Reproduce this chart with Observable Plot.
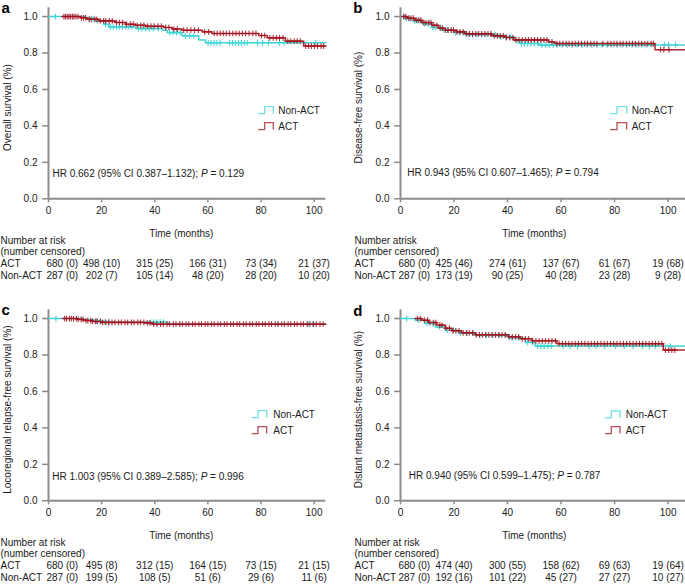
<!DOCTYPE html>
<html><head><meta charset="utf-8">
<script src="https://cdn.jsdelivr.net/npm/d3@7"></script>
<script src="https://cdn.jsdelivr.net/npm/@observablehq/plot@0.6"></script>
<style>
body{margin:0;background:#fff;}
#fig{position:relative;width:685px;height:586px;overflow:hidden;font-family:"Liberation Sans",Arial,sans-serif;}
.panel{position:absolute;}
</style></head><body><div id="fig"></div>
<script>
const riskTimes = [0, 20, 40, 60, 80, 100];
const yTicks = [0, 0.2, 0.4, 0.6, 0.8, 1.0];
const groups = ["Non-ACT", "ACT"];

// ---- Panel a: Overall survival
const actTimeA = [5.2, 12, 14.6, 19, 25.2, 29, 32.8, 36.5, 43.4, 46.6, 50.3, 57.9, 61.6, 79.2, 82.3, 89.2, 96.1, 104.4];
const actSurvA = [1.0, .993, .985, .976, .967, .958, .952, .947, .940, .931, .925, .916, .907, .896, .883, .865, .838, .838];
const actCensA = [5.8,6.4,7.1,7.7,8.3,9.0,9.6,10.3,11.1,12.4,13.2,14.0,15.3,16.1,17.4,18.2,19.5,20.8,21.6,22.9,24.0,25.6,26.7,27.9,29.4,30.8,31.9,33.4,34.7,35.9,37.3,38.6,39.8,41.2,42.5,44.1,45.3,47.2,48.5,50.9,52.2,53.6,55.0,56.4,58.8,60.3,62.4,63.5,64.7,65.8,66.9,68.1,69.4,70.6,71.8,73.0,74.2,75.5,76.9,78.1,80.2,81.4,83.3,84.6,85.8,87.0,88.3,90.1,91.2,92.5,93.6,94.8,96.8,97.9,99.0,100.1,101.3,102.6,103.6];
const nonTimeA = [0, 14, 17.7, 20.8, 22.7, 32.8, 42.8, 44.7, 50.3, 56.6, 59.1, 104.4];
const nonSurvA = [1.0, .989, .976, .958, .943, .934, .925, .912, .894, .872, .856, .856];
const nonCensA = [2.6,15.5,16.8,18.4,21.5,23.3,24.4,25.6,26.7,27.8,29.1,30.2,31.4,33.9,35.2,36.6,38.0,39.4,41.3,45.6,46.9,48.2,49.6,51.5,53.2,54.7,60.1,61.2,62.3,63.4,64.6,68.2,69.3,70.4,71.5,72.6,73.7,74.8,78.7,80.6,82.8,86.9,88.7,100.6];
const actRiskA = [680, 498, 315, 166, 73, 21];
const actCensoredA = [0, 10, 25, 31, 34, 37];
const nonRiskA = [287, 202, 105, 48, 28, 10];
const nonCensoredA = [0, 7, 14, 20, 20, 20];

// ---- Panel b: Disease-free survival
const actTimeB = [0.5, 2.5, 5.5, 8, 11.7, 14.2, 16.7, 21, 24.2, 34.1, 39, 42.2, 55.3, 57.8, 95.1, 106.5];
const actSurvB = [1.0, .991, .98, .967, .952, .936, .925, .916, .905, .894, .885, .872, .861, .852, .818, .818];
const actCensB = [1.2,2.0,3.1,3.9,4.8,5.9,6.8,7.6,8.7,9.5,10.6,11.4,12.5,13.6,14.8,15.7,16.9,17.8,18.9,19.8,21.1,22.3,23.4,24.6,25.8,26.9,28.1,29.2,30.4,31.5,32.7,33.8,35.0,36.2,37.3,38.4,39.6,40.8,42.0,43.1,44.3,45.5,46.7,47.8,48.9,50.1,51.2,52.4,53.6,54.7,56.6,58.4,59.5,60.7,61.9,63.0,64.2,65.3,66.5,67.6,68.8,69.9,71.1,72.3,73.4,75.6,77.5,78.6,79.8,80.9,82.1,83.2,84.4,85.5,86.7,87.8,89.0,90.1,91.3,92.4,93.6,94.5,97.2,98.4,100.3];
const nonTimeB = [0, 1.7, 4.9, 8, 11.7, 15.4, 20.4, 24.2, 36.6, 42.8, 44.7, 51.6, 106.5];
const nonSurvB = [1.0, .989, .976, .96, .94, .925, .912, .901, .888, .867, .852, .844, .844];
const nonCensB = [1.4,2.3,3.5,5.2,6.3,7.4,9.1,10.4,12.0,13.2,15.0,16.3,17.6,19.1,20.6,22.0,23.6,25.3,27.0,28.6,30.3,32.0,33.8,35.5,37.5,39.4,41.2,43.6,45.2,46.3,47.5,48.7,49.9,51.3,52.8,54.2,55.6,57.1,58.5,60.4,62.3,64.1,66.0,67.8,69.7,71.5,73.4,75.3,77.2,79.0,80.9,82.8,84.6,86.5,88.3,90.2,92.0,93.9,98.6,100.2,102.8];
const actRiskB = [680, 425, 274, 137, 61, 19];
const actCensoredB = [0, 46, 61, 67, 67, 68];
const nonRiskB = [287, 173, 90, 40, 23, 9];
const nonCensoredB = [0, 19, 25, 28, 28, 28];

// ---- Panel c: Locoregional relapse-free survival
const actTimeC = [5.3, 10.9, 13.4, 16.6, 19.7, 36.0, 39.1, 104.4];
const actSurvC = [1.0, .995, .989, .984, .979, .976, .969, .969];
const actCensC = [6.1,6.8,7.9,8.6,9.4,10.5,11.2,12.3,13.0,14.1,14.8,15.9,16.6,17.7,18.4,19.5,20.4,21.6,22.6,23.9,25.0,26.4,27.4,28.8,29.8,31.2,32.2,33.6,34.6,35.9,37.2,38.2,39.6,40.8,42.2,43.2,44.6,45.6,47.0,48.0,49.4,50.4,51.8,52.8,54.2,55.2,56.6,57.6,59.0,60.0,61.4,62.4,63.8,64.8,66.2,67.2,68.6,69.6,71.0,72.0,73.4,74.4,75.8,76.8,78.2,79.2,80.6,81.6,83.0,84.0,85.4,86.4,87.8,88.8,90.2,91.2,92.6,93.6,95.0,96.0,97.4,98.4,99.8,100.8,102.2,103.4];
const nonTimeC = [0, 13, 17, 20.5, 45, 104.4];
const nonSurvC = [1.0, .993, .986, .980, .970, .970];
const nonCensC = [2.8,18.1,19.6,21.2,22.9,38.4,39.6,40.8,42.1,43.3,86.5,97.8,99.4];
const actRiskC = [680, 495, 312, 164, 73, 21];
const actCensoredC = [0, 8, 15, 15, 15, 15];
const nonRiskC = [287, 199, 108, 51, 29, 11];
const nonCensoredC = [0, 5, 5, 6, 6, 6];

// ---- Panel d: Distant metastasis-free survival
const actTimeD = [5.5, 8, 10.5, 13.6, 16.7, 19.2, 22.9, 27.9, 40.3, 44.7, 49.1, 58.5, 98.2, 106.5];
const actSurvD = [1.0, .991, .978, .964, .947, .933, .922, .911, .900, .889, .878, .862, .827, .827];
const actCensD = [6.3,7.4,8.9,10.1,11.0,12.4,13.2,14.7,15.5,17.0,18.3,19.6,20.7,21.9,23.4,24.6,25.7,26.9,28.3,29.5,30.6,31.8,33.0,34.2,35.5,36.7,37.9,39.1,40.6,41.8,43.0,44.2,45.5,46.7,47.9,49.4,50.6,51.8,53.0,54.2,55.4,56.6,57.9,59.3,60.5,61.7,62.9,64.1,65.3,66.5,67.7,68.9,70.1,71.3,72.5,73.7,74.9,76.1,77.3,78.5,79.7,80.9,82.1,83.3,84.5,85.7,86.9,88.1,89.3,90.5,91.7,92.9,94.1,95.3,96.5,97.7,99.0,100.2,101.4,102.5];
const nonTimeD = [0, 5.5, 9.2, 13, 16.7, 21.7, 27.9, 40.3, 46.6, 50.3, 106.5];
const nonSurvD = [1.0, .991, .973, .954, .936, .92, .907, .893, .869, .849, .849];
const nonCensD = [2.3,6.8,9.9,12.0,14.6,17.5,19.8,22.4,24.9,27.2,29.6,32.1,34.5,37.0,39.2,41.7,44.1,47.5,49.3,51.2,52.5,53.7,55.0,56.3,60.8,63.4,66.2,70.5,73.1,76.4,80.3,83.6,86.9,90.4,93.0,95.2,100.8];
const actRiskD = [680, 474, 300, 158, 69, 19];
const actCensoredD = [0, 40, 55, 62, 63, 64];
const nonRiskD = [287, 192, 101, 45, 27, 10];
const nonCensoredD = [0, 16, 22, 27, 27, 27];

const CYAN = "#3fd6d6", RED = "#a3111c", AXIS = "#8c8c8c", INK = "#1a1a1a";

const panels = [
  {letter:"a", left:0, top:0, width:340, mL:48, mR:14.7, xMax:104.4,
   ylabel:"Overall survival (%)", header:"Number at risk",
   hr:"HR 0.662 (95% CI 0.387–1.132); P = 0.129",
   act:[actTimeA, actSurvA, actCensA, actRiskA, actCensoredA], non:[nonTimeA, nonSurvA, nonCensA, nonRiskA, nonCensoredA],
   labelDx:-48, yDx:-41, hrDx:4, hrDy:-25, leg:{x0:258.3, x1:273.3, tx:278.3, y:[110, 126]}, lt:{x:1.5, y:13}},
  {letter:"b", left:340, top:0, width:345, mL:60, mR:0, xMax:106.5,
   ylabel:"Disease-free survival (%)", header:"Number atrisk",
   hr:"HR 0.943 (95% CI 0.607–1.465); P = 0.794",
   act:[actTimeB, actSurvB, actCensB, actRiskB, actCensoredB], non:[nonTimeB, nonSurvB, nonCensB, nonRiskB, nonCensoredB],
   labelDx:-46, yDx:-42, hrDx:6.7, hrDy:-25.6, leg:{x0:270, x1:286.7, tx:291.7, y:[110, 126]}, lt:{x:13.3, y:13}},
  {letter:"c", left:0, top:302, width:340, mL:48, mR:14.7, xMax:104.4,
   ylabel:"Locoregional relapse-free survival (%)", header:"Number at risk",
   hr:"HR 1.003 (95% CI 0.389–2.585); P = 0.996",
   act:[actTimeC, actSurvC, actCensC, actRiskC, actCensoredC], non:[nonTimeC, nonSurvC, nonCensC, nonRiskC, nonCensoredC],
   labelDx:-48, yDx:-41, hrDx:3.7, hrDy:-24, leg:{x0:251.7, x1:266.7, tx:273.3, y:[112, 128]}, lt:{x:1.5, y:13}},
  {letter:"d", left:340, top:302, width:345, mL:60, mR:0, xMax:106.5,
   ylabel:"Distant metastasis-free survival (%)", header:"Number at risk",
   hr:"HR 0.940 (95% CI 0.599–1.475); P = 0.787",
   act:[actTimeD, actSurvD, actCensD, actRiskD, actCensoredD], non:[nonTimeD, nonSurvD, nonCensD, nonRiskD, nonCensoredD],
   labelDx:-46, yDx:-42, hrDx:8.3, hrDy:-25, leg:{x0:265, x1:280, tx:285.7, y:[112.3, 128]}, lt:{x:13.3, y:14}}
];

function survAt(times, survs, t) {
  const i = d3.bisectRight(times, t) - 1;
  return survs[Math.max(0, i)];
}

const fig = document.getElementById("fig");

for (const p of panels) {
  const [aT, aS, aC, aR, aN] = p.act;
  const [nT, nS, nC, nR, nN] = p.non;
  const actLine = aT.map((t, i) => ({t, s: aS[i]}));
  const nonLine = nT.map((t, i) => ({t, s: nS[i]}));
  const actPts = aC.map(t => ({t, s: survAt(aT, aS, t)}));
  const nonPts = nC.map(t => ({t, s: survAt(nT, nS, t)}));
  const risk = riskTimes.map((t, i) => ({t, act: `${aR[i]} (${aN[i]})`, non: `${nR[i]} (${nN[i]})`}));
  const first = risk.filter(d => d.t === riskTimes[0]);
  const rest = risk.filter(d => d.t !== riskTimes[0]);
  const common = {frameAnchor: "bottom", lineAnchor: "middle", fill: INK};

  const svg = Plot.plot({
    width: p.width, height: 293,
    marginLeft: p.mL, marginRight: p.mR, marginTop: 7.3, marginBottom: 94.7,
    style: {fontFamily: '"Liberation Sans", Arial, sans-serif', fontSize: "10px", color: INK, background: "transparent", overflow: "visible"},
    x: {domain: [0, p.xMax]},
    y: {domain: [0, 1.048]},
    marks: [
      Plot.axisX({ticks: riskTimes, tickSize: 4, tickPadding: 4.5, stroke: AXIS, strokeWidth: 1.5, fill: INK, label: null}),
      Plot.axisY({ticks: yTicks, tickSize: 6, tickPadding: 5, tickFormat: d3.format(".1f"), stroke: AXIS, strokeWidth: 1.5, fill: INK, label: null}),
      Plot.ruleX([0], {stroke: AXIS, strokeWidth: 2}),
      Plot.ruleY([0], {stroke: AXIS, strokeWidth: 2}),
      Plot.line(nonLine, {x: "t", y: "s", curve: "step-after", stroke: CYAN, strokeWidth: 1.5}),
      Plot.dot(nonPts, {x: "t", y: "s", symbol: "plus", r: 2, stroke: CYAN, strokeWidth: 1.1}),
      Plot.line(actLine, {x: "t", y: "s", curve: "step-after", stroke: RED, strokeWidth: 1.5, strokeOpacity: 0.9}),
      Plot.dot(actPts, {x: "t", y: "s", symbol: "plus", r: 2, stroke: RED, strokeWidth: 1.1, strokeOpacity: 0.85}),
      // y label
      Plot.text([p.ylabel], {frameAnchor: "left", rotate: -90, dx: p.yDx, dy: 4.3, textAnchor: "middle", lineAnchor: "middle", fill: INK}),
      // HR annotation
      Plot.text([p.hr], {frameAnchor: "bottom-left", dx: p.hrDx, dy: p.hrDy, textAnchor: "start", lineAnchor: "middle", fill: INK}),
      // x label
      Plot.text([d3.mean(riskTimes)], {x: d => d, text: () => "Time (months)", ...common, dy: 34.7}),
      // risk table headers
      Plot.text([p.header], {frameAnchor: "bottom-left", dx: p.labelDx, dy: 42.2, textAnchor: "start", lineAnchor: "middle", fill: INK}),
      Plot.text(["(number censored)"], {frameAnchor: "bottom-left", dx: p.labelDx, dy: 53.4, textAnchor: "start", lineAnchor: "middle", fill: INK}),
      Plot.text([groups[1]], {frameAnchor: "bottom-left", dx: p.labelDx, dy: 65, textAnchor: "start", lineAnchor: "middle", fill: INK}),
      Plot.text([groups[0]], {frameAnchor: "bottom-left", dx: p.labelDx, dy: 76.7, textAnchor: "start", lineAnchor: "middle", fill: INK}),
      // risk table values
      Plot.text(first, {x: "t", text: "act", ...common, dy: 65, dx: -2, textAnchor: "start"}),
      Plot.text(first, {x: "t", text: "non", ...common, dy: 76.7, dx: -2, textAnchor: "start"}),
      Plot.text(rest, {x: "t", text: "act", ...common, dy: 65, textAnchor: "middle"}),
      Plot.text(rest, {x: "t", text: "non", ...common, dy: 76.7, textAnchor: "middle"})
    ]
  });

  // italic P in HR text
  for (const t of svg.querySelectorAll("text")) {
    if (t.textContent === p.hr) {
      const [pre, post] = p.hr.split("P = ");
      t.textContent = pre;
      const ts1 = document.createElementNS("http://www.w3.org/2000/svg", "tspan");
      ts1.setAttribute("font-style", "italic"); ts1.textContent = "P";
      const ts2 = document.createElementNS("http://www.w3.org/2000/svg", "tspan");
      ts2.textContent = " = " + post;
      t.appendChild(ts1); t.appendChild(ts2);
    }
  }

  const s = d3.select(svg);
  // legend
  const legColors = [CYAN, RED];
  groups.forEach((g, i) => {
    const yc = p.leg.y[i];
    const yl = yc + 3.6, yt = yc - 3.4;
    const xm = p.leg.x0 + (p.leg.x1 - p.leg.x0) * 0.42;
    s.append("path")
      .attr("d", `M${p.leg.x0},${yl}H${xm}V${yt}H${p.leg.x1}V${yl}`)
      .attr("fill", "none").attr("stroke", legColors[i]).attr("stroke-width", 1.3).attr("stroke-opacity", 0.75);
    s.append("text").attr("x", p.leg.tx).attr("y", yc).attr("dy", "0.35em")
      .attr("text-anchor", "start").attr("font-size", 10).attr("fill", INK).text(g);
  });
  // panel letter
  s.append("text").attr("x", p.lt.x).attr("y", p.lt.y).attr("text-anchor", "start")
    .attr("font-size", 15).attr("font-weight", "bold").attr("fill", "#000").text(p.letter);

  const div = document.createElement("div");
  div.className = "panel";
  div.style.left = p.left + "px";
  div.style.top = p.top + "px";
  div.appendChild(svg);
  fig.appendChild(div);
}
</script></body></html>
